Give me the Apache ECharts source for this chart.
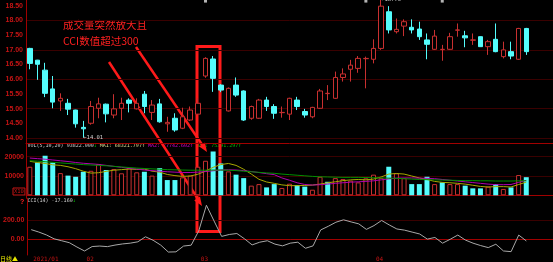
<!DOCTYPE html>
<html><head><meta charset="utf-8">
<script src="https://cdn.jsdelivr.net/npm/echarts@6/dist/echarts.min.js"></script>
<style>html,body{margin:0;padding:0;background:#000}#c{width:553px;height:262px}</style>
</head><body><div id="c"></div>
<script>
const dates = ['2021-01-21','2021-01-22','2021-01-25','2021-01-26','2021-01-27','2021-01-28','2021-01-29',
'2021-02-01','2021-02-02','2021-02-03','2021-02-04','2021-02-05','2021-02-08','2021-02-09','2021-02-10','2021-02-18','2021-02-19','2021-02-22','2021-02-23','2021-02-24','2021-02-25','2021-02-26',
'2021-03-01','2021-03-02','2021-03-03','2021-03-04','2021-03-05','2021-03-08','2021-03-09','2021-03-10','2021-03-11','2021-03-12','2021-03-15','2021-03-16','2021-03-17','2021-03-18','2021-03-19','2021-03-22','2021-03-23','2021-03-24','2021-03-25','2021-03-26','2021-03-29','2021-03-30','2021-03-31',
'2021-04-01','2021-04-02','2021-04-06','2021-04-07','2021-04-08','2021-04-09','2021-04-12','2021-04-13','2021-04-14','2021-04-15','2021-04-16','2021-04-19','2021-04-20','2021-04-21','2021-04-22','2021-04-23','2021-04-26','2021-04-27','2021-04-28','2021-04-29','2021-04-30'];
const emptySlots = [' ','  ','   '];
const prevClose = 16.40; // close of the day before the first visible day
const opens  = [17.05,16.65,16.31,15.67,15.26,15.18,14.95,14.36,14.50,15.01,15.15,14.78,15.01,15.29,14.99,15.49,14.87,15.16,14.48,14.67,14.33,14.61,14.81,16.11,16.69,15.80,14.92,15.80,15.60,14.67,14.67,15.29,15.07,14.86,14.81,15.29,14.90,14.72,15.01,15.51,15.35,16.06,16.34,16.37,16.70,16.68,17.05,18.30,17.62,17.81,17.77,17.71,17.34,17.02,17.01,17.02,17.67,17.48,17.33,17.45,17.11,17.36,16.77,16.94,16.68,17.73];
const closes = [16.54,16.51,15.52,15.22,15.35,14.98,14.48,14.31,15.07,15.16,14.82,14.99,15.18,15.18,15.18,15.07,15.12,14.55,14.53,14.27,14.72,14.95,15.18,16.71,16.03,15.63,15.69,15.46,14.61,15.07,15.29,15.07,14.84,14.87,15.35,15.07,14.78,15.04,15.60,15.52,16.06,16.18,16.48,16.71,16.71,17.05,18.49,17.68,17.70,17.96,17.68,17.45,17.19,17.47,17.02,17.45,17.68,17.41,17.34,17.11,17.28,16.94,17.00,16.79,17.73,16.94];
const lows   = [16.34,15.98,15.39,15.01,14.92,14.78,14.35,14.01,14.45,14.67,14.53,14.67,14.61,14.87,14.97,14.84,14.61,14.52,14.21,14.21,14.30,14.58,14.78,16.05,15.57,15.56,14.90,15.40,14.58,14.62,14.65,14.92,14.65,14.69,14.61,14.95,14.69,14.67,14.99,15.29,15.33,15.92,15.92,16.22,15.69,16.54,17.00,17.56,17.56,17.47,17.56,17.34,16.68,17.00,16.63,17.00,17.45,17.09,17.17,17.10,16.83,16.92,16.71,16.68,16.66,16.83];
const highs  = [17.07,16.66,16.56,16.11,15.52,15.33,14.96,14.58,15.26,15.37,15.17,15.49,15.37,15.35,15.35,15.60,15.29,15.33,14.72,14.84,15.03,15.07,15.35,16.75,16.79,15.83,15.72,16.06,15.62,15.10,15.33,15.40,15.15,15.07,15.37,15.40,14.99,15.06,15.67,15.80,16.26,16.37,16.66,16.79,16.77,17.36,18.70,18.49,18.07,18.04,18.04,17.96,17.56,17.68,17.17,17.58,17.90,17.65,17.56,17.46,17.34,17.90,17.28,17.28,17.75,17.75];
// volume in axis units (x10 shares)
const volumes = [14800,17000,20500,17000,11500,10200,9600,12200,12700,16200,13100,13600,11400,14100,11900,12200,10200,14100,7900,7900,9300,10200,14800,17900,22700,16500,12400,10700,8900,5000,5800,4100,5800,3800,6000,5300,4500,2900,9600,7000,8900,8400,7600,6700,8800,10700,9000,14800,11400,8900,5800,5800,9600,5800,6700,5800,5800,5000,3600,3600,4500,5800,3300,4100,10500,9382];
const ma5  = [17600,17000,16500,15800,15500,14800,13800,12500,11500,11700,12400,13000,13300,13600,13400,13600,12500,12000,10800,10200,9800,10000,10900,12500,14500,15900,16500,15500,13500,11000,8300,6900,6200,5400,5000,5000,5100,5300,5800,6500,7000,7600,8000,8200,8000,8400,9500,11000,11300,11000,10000,9000,8200,7200,6700,6500,6200,5800,5200,4600,4300,4500,4500,4300,5600,6832];
const ma10 = [19300,19000,18700,18300,17900,17500,17000,16600,16300,16000,15500,15000,14500,14000,13600,13100,12800,12500,12200,12000,11800,11800,12000,12300,12700,13100,13200,13100,12800,12300,11800,11200,10700,9000,7800,6500,5600,5300,5500,5800,6200,6500,6800,7000,7200,7500,8000,8500,8900,9000,9000,8900,8800,8600,8200,7800,7400,7000,6600,6200,5800,5500,5500,5600,6700,7774];
const ma20 = [17900,17700,17400,17100,16800,16500,16200,15900,15700,15500,15300,15000,14700,14400,14100,13900,13700,13500,13300,13200,13100,13000,13000,13000,13100,13100,13000,12800,12500,12200,11900,11600,11400,11000,10700,10400,10100,9800,9600,9500,9400,9300,9300,9300,9200,9100,9000,8900,8800,8600,8400,8200,8100,8000,7900,7800,7700,7600,7600,7500,7500,7400,7400,7400,7500,7539];
const cci = [100,75,45,5,-15,-35,-80,-121,-75,-70,-76,-60,-48,-40,-26,26,-10,-60,-132,-130,-70,-61,89,353,190,30,50,60,5,-58,-30,-15,-50,-68,-40,-30,-93,-68,97,135,177,202,180,160,103,142,195,149,107,95,75,55,2,19,-40,0,44,-8,-40,-65,-86,-51,-121,-128,44,-17.16];
const priceLabels = [14,14.5,15,15.5,16,16.5,17,17.5,18,18.5];
const priceGrid = [14,15,16,17,18];
const volLabels = [10000,20000];
const volGrid = [0,10000,20000];
const cciLabels = [0,200];
const monthIdx = [0,7,22,45];
const monthText = ['2021/01','02','03','04'];
const weekTickIdx = [3,12,17,27,32,37,42,51,56,61];
const mineIdx = [23,44,54];

const RED='#c83030', CYAN='#54fcfc', AXIS='#a00000', DIM='#3a0000', LBL='#c81414';
const cats = dates.concat(emptySlots);
const candleData = dates.map((d,i)=>[opens[i],closes[i],lows[i],highs[i]]);
const volData = volumes.map((v,i)=>{
  const ref = i === 0 ? prevClose : closes[i-1];
  const up = closes[i] >= ref;
  return {value:v, itemStyle: up ? {color:'#000', borderColor:RED, borderWidth:1} : {color:CYAN, borderColor:CYAN, borderWidth:0}};
});
const lblFont = {color:LBL, fontSize:7, fontWeight:'bold', fontFamily:'Liberation Sans'};
const mono = 'DejaVu Sans Mono';

const chart = echarts.init(document.getElementById('c'), null, {renderer:'canvas'});
chart.setOption({
  backgroundColor:'#000',
  animation:false,
  grid:[
    {left:26, right:-3, top:0, height:143.5},
    {left:26, right:-3, top:143.5, height:54.8},
    {left:26, right:-3, top:198.3, height:56.7}
  ],
  xAxis:[
    {type:'category', gridIndex:0, data:cats, axisLine:{lineStyle:{color:AXIS}}, axisTick:{show:false}, axisLabel:{show:false}},
    {type:'category', gridIndex:1, data:cats, axisLine:{lineStyle:{color:AXIS}}, axisTick:{show:false}, axisLabel:{show:false}},
    {type:'category', gridIndex:2, data:cats, position:'bottom', axisLine:{lineStyle:{color:AXIS}},
      axisTick:{alignWithLabel:true, length:6, interval:(i)=>monthIdx.includes(i), lineStyle:{color:LBL}},
      axisLabel:{interval:(i)=>monthIdx.includes(i), formatter:(v,i)=>monthText[monthIdx.indexOf(i)]||'',
        align:'left', margin:1, padding:[0,0,0,2], color:LBL, fontSize:6, fontFamily:mono}},
    {type:'category', gridIndex:2, data:cats, position:'bottom', offset:0, axisLine:{show:false},
      axisTick:{alignWithLabel:true, length:2, interval:(i)=>weekTickIdx.includes(i), lineStyle:{color:LBL}},
      axisLabel:{show:false}}
  ],
  yAxis:[
    {type:'value', gridIndex:0, min:13.81, max:18.70, axisLine:{show:true, lineStyle:{color:AXIS}},
      axisTick:{show:false, customValues:priceGrid},
      axisLabel:Object.assign({customValues:priceLabels, margin:3, formatter:v=>v.toFixed(2)}, lblFont),
      splitLine:{show:true, lineStyle:{color:DIM}}},
    {type:'value', gridIndex:1, min:-1554, max:26840, axisLine:{show:true, lineStyle:{color:AXIS}},
      axisTick:{show:false, customValues:volGrid},
      axisLabel:Object.assign({customValues:volLabels, margin:2, formatter:v=>String(v)}, lblFont),
      splitLine:{show:true, lineStyle:{color:DIM}}},
    {type:'value', gridIndex:2, min:-162.7, max:424.9, axisLine:{show:true, lineStyle:{color:AXIS}},
      axisTick:{show:false, customValues:cciLabels},
      axisLabel:Object.assign({customValues:cciLabels, margin:3, formatter:v=>v.toFixed(2)}, lblFont),
      splitLine:{show:true, lineStyle:{color:DIM}}}
  ],
  series:[
    {type:'candlestick', xAxisIndex:0, yAxisIndex:0, data:candleData, barWidth:5,
      itemStyle:{color:'#000', color0:CYAN, borderColor:RED, borderColor0:CYAN, borderWidth:1},
      markPoint:{symbol:'circle', symbolSize:0, silent:true,
        label:{show:true, position:'right', distance:0, color:'#d0d0d0', fontSize:5.5, fontFamily:mono, formatter:p=>'\u2190'+Number(p.value).toFixed(2)},
        data:[{type:'max', valueDim:'highest'},{type:'min', valueDim:'lowest'}]}},
    {type:'scatter', xAxisIndex:0, yAxisIndex:0, symbol:'rect', symbolSize:[3,4], itemStyle:{color:'#e0e0e0'},
      data:mineIdx.map(i=>[i, 18.68])},
    {type:'bar', xAxisIndex:1, yAxisIndex:1, data:volData, barWidth:5},
    {type:'line', xAxisIndex:1, yAxisIndex:1, data:ma5, symbol:'none', lineStyle:{color:'#a8a800', width:1}},
    {type:'line', xAxisIndex:1, yAxisIndex:1, data:ma10, symbol:'none', lineStyle:{color:'#b000b0', width:1}},
    {type:'line', xAxisIndex:1, yAxisIndex:1, data:ma20, symbol:'none', lineStyle:{color:'#009000', width:1}},
    {type:'line', xAxisIndex:2, yAxisIndex:2, data:cci, symbol:'none', lineStyle:{color:'#a8a8a8', width:1}}
  ],
  graphic:[
    {type:'text', x:27.5, y:146, style:{text:'{w|VOL(5,10,20) 93822.000}{g|\u2193}{y| MA1: 68321.797\u2191}{m| MA2: 77742.602\u2191}{gr| MA3: 75391.297\u2191}',
      verticalAlign:'middle', fontSize:5, fontFamily:mono,
      rich:{w:{fill:'#d0d0d0',fontSize:5,fontFamily:mono}, g:{fill:'#00c000',fontSize:5,fontFamily:mono}, y:{fill:'#d8d890',fontSize:5,fontFamily:mono}, m:{fill:'#d000d0',fontSize:5,fontFamily:mono}, gr:{fill:'#00c000',fontSize:5,fontFamily:mono}}}},
    {type:'text', x:27.5, y:201, style:{text:'{w|CCI(14) -17.160}{g|\u2193}', verticalAlign:'middle', fontSize:5, fontFamily:mono,
      rich:{w:{fill:'#d0d0d0',fontSize:5,fontFamily:mono}, g:{fill:'#00c000',fontSize:5,fontFamily:mono}}}},
    {type:'text', x:13, y:188, style:{text:'X10', fill:LBL, fontSize:5.5, fontFamily:mono, borderColor:LBL, borderWidth:1, padding:[1,1,0,1]}},
    {type:'text', x:20, y:198.5, style:{text:'?', fill:'#ff2020', fontSize:7, fontWeight:'bold', fontFamily:'Liberation Sans'}},
    {type:'text', x:0, y:258.5, style:{text:'日线\u25B2', fill:'#e8e800', fontSize:6, fontFamily:'Noto Sans CJK SC', verticalAlign:'middle'}},
    {type:'text', x:63, y:25.3, style:{text:'成交量突然放大且', fill:'#ff2020', fontSize:10.5, fontFamily:'Noto Sans CJK SC', verticalAlign:'middle'}},
    {type:'text', x:63, y:40.7, style:{text:'CCI数值超过300', fill:'#ff2020', fontSize:10.5, fontFamily:'Noto Sans CJK SC', verticalAlign:'middle'}},
    {type:'rect', shape:{x:197, y:46.5, width:23, height:185}, style:{fill:'none', stroke:'#ff1a1a', lineWidth:3}},
    {type:'line', shape:{x1:109, y1:62, x2:198, y2:199}, style:{stroke:'#ff1a1a', lineWidth:2.5}},
    {type:'polygon', shape:{points:[[202,206],[194.2,200.4],[200,196.6]]}, style:{fill:'#ff1a1a'}},
    {type:'line', shape:{x1:136, y1:47, x2:203, y2:146}, style:{stroke:'#ff1a1a', lineWidth:2.5}},
    {type:'polygon', shape:{points:[[207,152],[199.2,146.4],[205,142.4]]}, style:{fill:'#ff1a1a'}}
  ]
});
</script></body></html>
